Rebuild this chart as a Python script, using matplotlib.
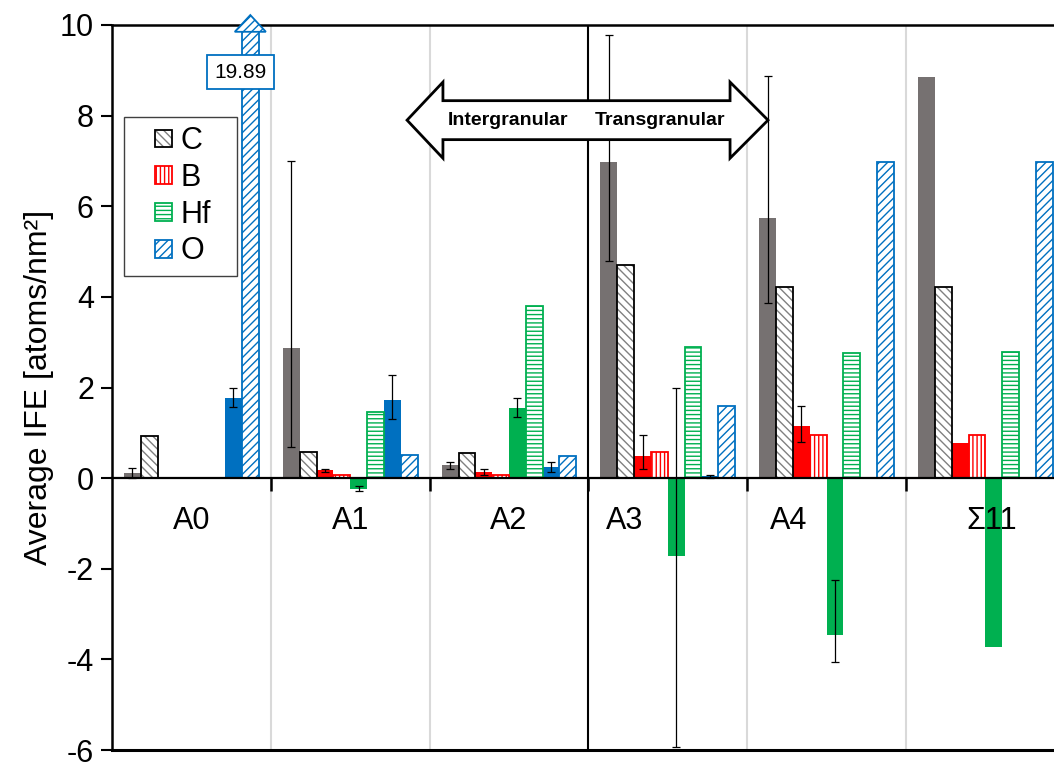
import numpy as np
import matplotlib
matplotlib.use("Agg")
import matplotlib.pyplot as plt
from matplotlib.patches import Polygon, Patch, Rectangle
from matplotlib.legend_handler import HandlerPatch, HandlerTuple

plt.rcParams["font.family"] = ["Liberation Sans", "DejaVu Sans"]
plt.rcParams["hatch.linewidth"] = 1.0
plt.rcParams["axes.unicode_minus"] = False

nan = np.nan

# Grain-boundary groups
groups = ["A0", "A1", "A2", "A3", "A4", "Σ11"]

# Carbon
c_filled = [0.12, 2.87, 0.29, 6.97, 5.73, 8.86]
c_err_lo = [0.11, 2.19, 0.08, 2.18, 1.86, nan]
c_err_hi = [0.11, 4.13, 0.07, 2.81, 3.14, nan]
c_hatched = [0.93, 0.57, 0.56, 4.71, 4.22, 4.22]

# Boron
b_filled = [nan, 0.17, 0.13, 0.49, 1.15, 0.78]
b_err_lo = [nan, 0.03, 0.06, 0.28, 0.36, nan]
b_err_hi = [nan, 0.03, 0.07, 0.47, 0.44, nan]
b_hatched = [nan, 0.08, 0.06, 0.57, 0.96, 0.96]

# Hafnium
hf_filled = [nan, -0.23, 1.55, -1.72, -3.47, -3.73]
hf_err_lo = [nan, 0.06, 0.20, 4.22, 0.59, nan]
hf_err_hi = [nan, 0.06, 0.22, 3.72, 1.22, nan]
hf_hatched = [nan, 1.46, 3.80, 2.90, 2.77, 2.78]

# Oxygen
o_filled = [1.77, 1.72, 0.24, 0.04, nan, nan]
o_err_lo = [0.21, 0.42, 0.11, 0.03, nan, nan]
o_err_hi = [0.21, 0.55, 0.12, 0.03, nan, nan]
o_hatched = [19.89, 0.52, 0.49, 1.60, 6.97, 6.97]

elements = ["C", "B", "Hf", "O"]

series = [
    ("C", "#767171", "#000000", "#808080", "\\\\\\\\", c_filled, c_err_lo, c_err_hi, c_hatched),
    ("B", "#FF0000", "#FF0000", "#FF0000", "||||", b_filled, b_err_lo, b_err_hi, b_hatched),
    ("Hf", "#00B050", "#00B050", "#00B050", "----", hf_filled, hf_err_lo, hf_err_hi, hf_hatched),
    ("O", "#0070C0", "#0070C0", "#0070C0", "////", o_filled, o_err_lo, o_err_hi, o_hatched),
]

YMIN, YMAX = -6, 10
FS = 22

fig = plt.figure(figsize=(10.54, 7.63), dpi=100)
ax = fig.add_axes([112 / 1054, 13 / 763, 952.8 / 1054, 725 / 763])
ax.set_xlim(-0.5, len(groups) - 0.5)
ax.set_ylim(YMIN, YMAX)
ax.set_axisbelow(True)

x = np.arange(len(groups))
w = 0.106

# group separators; the black one splits intergranular from transgranular
for b in x[:-1] + 0.5:
    if b == 2.5:
        ax.axvline(b, color="black", lw=1.5, zorder=1)
    else:
        ax.axvline(b, color="#d9d9d9", lw=1.5, zorder=0.5)

handles = []
for k, (name, solid, edge, hcol, hatch, filled, lo, hi, hatched) in enumerate(series):
    off_f = (2 * k - 3.5) * w
    off_h = (2 * k + 1 - 3.5) * w
    ax.bar(x + off_f, filled, w, color=solid, edgecolor="none", zorder=2,
           yerr=[lo, hi],
           error_kw=dict(ecolor="black", elinewidth=0.9, capsize=2.8,
                         capthick=0.9, zorder=4))
    ax.bar(x + off_h, hatched, w, color="white", edgecolor=hcol, hatch=hatch,
           linewidth=0, zorder=2)
    ax.bar(x + off_h, hatched, w, fill=False, edgecolor=edge, linewidth=1.3,
           zorder=2.1)
    handles.append((Patch(facecolor="white", edgecolor=hcol, hatch=hatch, lw=0),
                    Patch(fill=False, edgecolor=edge, lw=1.3)))

    # off-scale oxygen value at A0: arrow head above the axes and value box
    if name == "O":
        for i, v in enumerate(hatched):
            if v > YMAX:
                xc = x[i] + off_h
                hw = w / 2 + 0.045
                head = Polygon([[xc - hw, YMAX - 0.15], [xc + hw, YMAX - 0.15],
                                [xc, YMAX + 0.22]], closed=True,
                               facecolor="white", edgecolor=hcol, hatch=hatch,
                               lw=1.3, clip_on=False, zorder=4)
                ax.add_patch(head)
                ax.text(xc - 0.06, YMAX - 1.04, f"{v:.2f}", ha="center", va="center",
                        fontsize=15, zorder=6,
                        bbox=dict(boxstyle="square,pad=0.35", fc="white",
                                  ec=hcol, lw=1.3))

# zero line with group ticks
ax.spines["bottom"].set_position(("data", 0))
ax.spines["bottom"].set_linewidth(1.6)
ax.spines["bottom"].set_zorder(3)
ax.spines["left"].set_linewidth(1.8)
ax.spines["top"].set_linewidth(1.8)
ax.spines["right"].set_visible(False)
ax.axhline(YMIN, color="black", lw=2.2, clip_on=False, zorder=3)

ax.set_xticks([])
ax.set_xticks(x[:-1] + 0.5, minor=True)
ax.tick_params(axis="x", which="minor", length=9, width=1.8, direction="out")

# category names under the zero line, nudged clear of the negative bars
label_shift = [0.0, 0.0, 0.0, -0.27, -0.24, 0.04]
for xi, name, dx in zip(x, groups, label_shift):
    ax.annotate(name, (xi + dx, 0), xytext=(0, -31), textcoords="offset points",
                ha="center", va="center", fontsize=FS, zorder=6)

ax.set_yticks(np.arange(YMIN, YMAX + 1, 2))
ax.tick_params(axis="y", labelsize=FS, length=8, width=1.5, pad=5)
ax.set_ylabel("Average IFE [atoms/nm²]", fontsize=FS + 1, labelpad=4)


def square(legend, orig_handle, xdescent, ydescent, width, height, fontsize):
    s = 12.8
    return Rectangle((-xdescent + width - s, -ydescent + (height - s) / 2), s, s)


leg = ax.legend(handles, elements, loc="upper left", mode="expand",
                bbox_to_anchor=(0.0126, 0.55, 0.1186, 0.323), borderaxespad=0,
                fontsize=FS, frameon=True, fancybox=False, framealpha=1,
                edgecolor="#404040", handlelength=1.28, handleheight=0.7,
                handletextpad=0.26, labelspacing=0.22, borderpad=0.3,
                handler_map={Patch: HandlerPatch(patch_func=square),
                             tuple: HandlerTuple(ndivide=1, pad=0)})
leg.get_frame().set_linewidth(1.0)
leg.set_zorder(6)

# intergranular / transgranular double arrow
ax_l, ax_r = 1.358, 3.631
hb_l, hb_r = 1.584, 3.392
yc, sh, hh = 7.90, 0.43, 0.84
arrow = Polygon([[ax_l, yc], [hb_l, yc + hh], [hb_l, yc + sh], [hb_r, yc + sh],
                 [hb_r, yc + hh], [ax_r, yc], [hb_r, yc - hh], [hb_r, yc - sh],
                 [hb_l, yc - sh], [hb_l, yc - hh]], closed=True,
                facecolor="white", edgecolor="black", lw=2, zorder=5)
ax.add_patch(arrow)
ax.text(1.994, yc, "Intergranular", ha="center", va="center", fontsize=14,
        fontweight="bold", zorder=6)
ax.text(2.951, yc, "Transgranular", ha="center", va="center", fontsize=14,
        fontweight="bold", zorder=6)

fig.savefig("out.png", dpi=100)
